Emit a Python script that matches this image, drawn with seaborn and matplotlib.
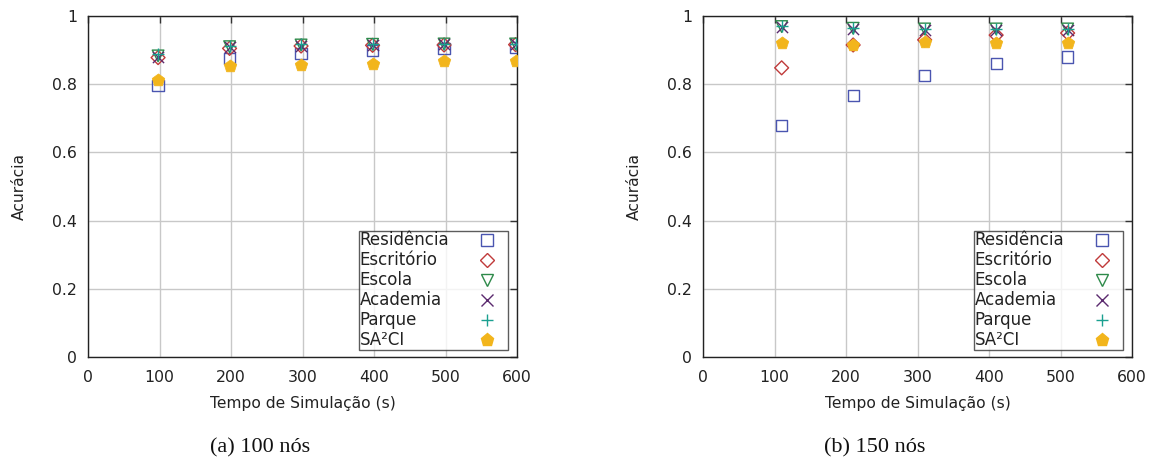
import matplotlib
matplotlib.use("Agg")
import matplotlib.pyplot as plt
import seaborn as sns
import pandas as pd

sns.set_theme(style="white")
plt.rcParams['font.family'] = ['DejaVu Sans']

series = ["Residência", "Escritório", "Escola", "Academia", "Parque", "SA²CI"]

# Panel (a): 100 nós
t_a = [98, 198, 298, 398, 498, 598]
res_a = [0.797, 0.875, 0.890, 0.900, 0.905, 0.908]
esc_a = [0.878, 0.905, 0.912, 0.914, 0.915, 0.916]
escola_a = [0.883, 0.910, 0.915, 0.917, 0.918, 0.918]
acad_a = [0.880, 0.908, 0.913, 0.915, 0.917, 0.917]
parq_a = [0.888, 0.912, 0.917, 0.918, 0.919, 0.919]
sa2ci_a = [0.812, 0.853, 0.856, 0.858, 0.869, 0.869]

# Panel (b): 150 nós
t_b = [110, 210, 310, 410, 510]
res_b = [0.680, 0.767, 0.826, 0.861, 0.880]
esc_b = [0.848, 0.915, 0.930, 0.944, 0.950]
escola_b = [0.969, 0.964, 0.962, 0.962, 0.962]
acad_b = [0.967, 0.962, 0.960, 0.960, 0.960]
parq_b = [0.971, 0.965, 0.963, 0.963, 0.963]
sa2ci_b = [0.920, 0.915, 0.923, 0.922, 0.922]

x_ticks = [0, 100, 200, 300, 400, 500, 600]
y_ticks = [0, 0.2, 0.4, 0.6, 0.8, 1.0]
y_ticklabels = ["0", "0.2", "0.4", "0.6", "0.8", "1"]
xlabel = "Tempo de Simulação (s)"
ylabel = "Acurácia"
captions = ["(a) 100 nós", "(b) 150 nós"]

styles = {
    "Residência": dict(marker="s", color="#4a55b0", filled=False, s=65),
    "Escritório": dict(marker="D", color="#c03a3a", filled=False, s=50),
    "Escola": dict(marker="v", color="#2e8a4a", filled=False, s=70),
    "Academia": dict(marker="x", color="#5b2a6e", filled=None, s=65),
    "Parque": dict(marker="+", color="#1aa090", filled=None, s=75),
    "SA²CI": dict(marker="p", color="#f2b51c", filled=True, s=90),
}

fig = plt.figure(figsize=(11.56, 4.61), dpi=100)
axes = [fig.add_axes([88/1156, 104/461, 429/1156, 341/461]),
        fig.add_axes([703/1156, 104/461, 429/1156, 341/461])]

panels = [
    (t_a, [res_a, esc_a, escola_a, acad_a, parq_a, sa2ci_a]),
    (t_b, [res_b, esc_b, escola_b, acad_b, parq_b, sa2ci_b]),
]

legends = []
for ax, (t, vals), cap in zip(axes, panels, captions):
    frames = []
    for name, v in zip(series, vals):
        frames.append(pd.DataFrame({"t": t, "acc": v, "serie": name}))
    df = pd.concat(frames, ignore_index=True)
    ax.grid(True, color="#c8c8c8", linewidth=1.0, zorder=0)
    ax.set_axisbelow(True)
    for name in series:
        st = styles[name]
        sub = df[df["serie"] == name]
        kw = dict(data=sub, x="t", y="acc", ax=ax, marker=st["marker"], s=st["s"],
                  zorder=3, legend=False)
        if st["filled"] is False:
            sns.scatterplot(**kw, color=st["color"], facecolor="none",
                            edgecolor=st["color"], linewidth=1.0)
        elif st["filled"] is None:
            sns.scatterplot(**kw, color=st["color"], linewidth=1.0)
        else:
            sns.scatterplot(**kw, color=st["color"], edgecolor=st["color"], linewidth=0.5)
    ax.set_xlim(0, 600)
    ax.set_ylim(0, 1)
    ax.set_xticks(x_ticks)
    ax.set_yticks(y_ticks)
    ax.set_yticklabels(y_ticklabels)
    ax.tick_params(direction="in", length=5, width=1, colors="#333333",
                   labelcolor="#222222", labelsize=11.3, top=True, right=True)
    ax.tick_params(axis="x", pad=9)
    ax.tick_params(axis="y", pad=8)
    for sp in ax.spines.values():
        sp.set_color("#222222")
        sp.set_linewidth(1.0)
    ax.set_xlabel(xlabel, fontsize=11.2, color="#222222", labelpad=8)
    ax.set_ylabel(ylabel, fontsize=11.2, color="#222222", labelpad=18)

    handles = []
    for name in series:
        st = styles[name]
        if st["filled"] is False:
            h = plt.Line2D([], [], linestyle="none", marker=st["marker"],
                           markerfacecolor="none", markeredgecolor=st["color"],
                           markersize=st["s"] ** 0.5, markeredgewidth=1.0)
        elif st["filled"] is None:
            h = plt.Line2D([], [], linestyle="none", marker=st["marker"],
                           color=st["color"], markersize=st["s"] ** 0.5,
                           markeredgewidth=1.0)
        else:
            h = plt.Line2D([], [], linestyle="none", marker=st["marker"],
                           color=st["color"], markersize=st["s"] ** 0.5)
        handles.append(h)
    leg = ax.legend(handles, series, loc="lower right",
                    bbox_to_anchor=(0.978, 0.02), markerfirst=False,
                    fontsize=12, frameon=True, fancybox=False,
                    borderpad=0.05, labelspacing=0.12, handletextpad=1.05,
                    handlelength=2.4, borderaxespad=0.0)
    leg.get_frame().set_edgecolor("#333333")
    leg.get_frame().set_linewidth(1.0)
    for txt in leg.get_texts():
        txt.set_color("#222222")
    legends.append(leg)

    bb = ax.get_position()
    fig.text(bb.x0 + bb.width * 0.4, (461-448)/461, cap,
             ha="center", va="center", fontsize=16,
             family="Liberation Serif", color="#111111")

# left-align legend labels while keeping markers on the right
fig.canvas.draw()
renderer = fig.canvas.get_renderer()
for leg in legends:
    widths = [t.get_window_extent(renderer).width for t in leg.get_texts()]
    maxw = max(widths)
    cols = leg._legend_handle_box.get_children()
    items = [it for col in cols for it in col.get_children()]
    for it, w in zip(items, widths):
        it.sep = it.sep + (maxw - w) * 72.0 / fig.dpi

fig.savefig("out.png", dpi=100)
